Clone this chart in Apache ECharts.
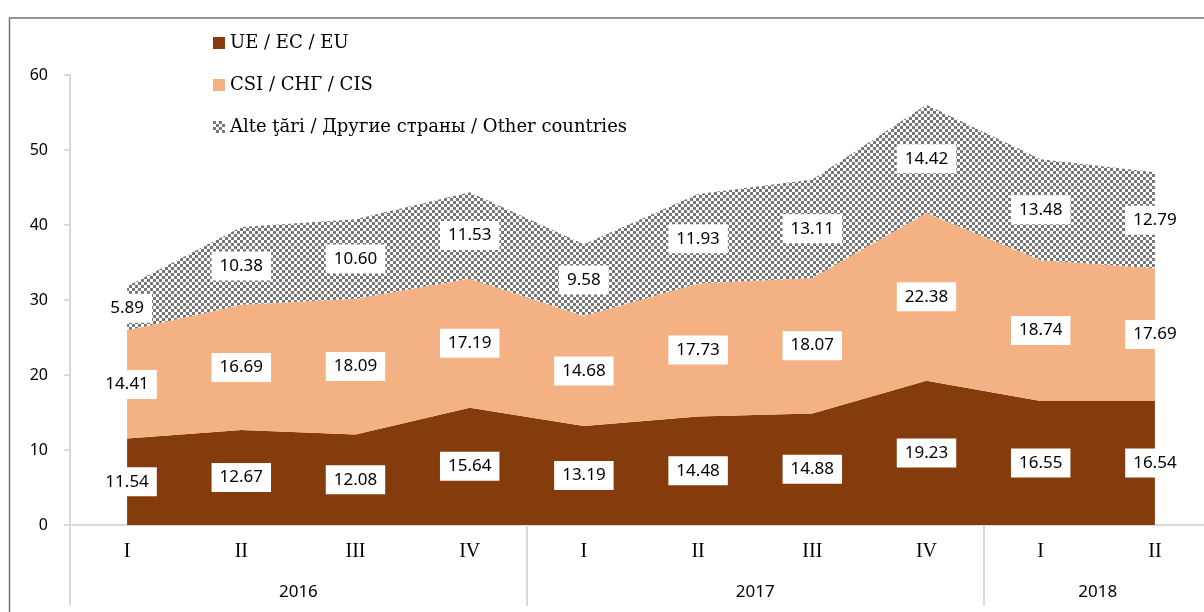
<!DOCTYPE html>
<html lang="ro">
<head>
	<meta charset="UTF-8">
	<title>Export pe regiuni</title>
	<script type="text/javascript" src="https://cdn.jsdelivr.net/npm/echarts@6/dist/echarts.min.js"></script>
	<style>
		html, body { margin: 0; padding: 0; background: #fff; }
		#main { width: 1204px; height: 612px; }
	</style>
</head>
<body>
	<div id="main"></div>
	<script type="text/javascript">
		// data
		var quarters = ['I', 'II', 'III', 'IV', 'I', 'II', 'III', 'IV', 'I', 'II'];
		var years = ['2016', '2017', '2018'];
		var yearStarts = [0, 4, 8, 10];      // quarter index where each year group begins / ends
		var euData = [11.54, 12.67, 12.08, 15.64, 13.19, 14.48, 14.88, 19.23, 16.55, 16.54];
		var cisData = [14.41, 16.69, 18.09, 17.19, 14.68, 17.73, 18.07, 22.38, 18.74, 17.69];
		var otherData = [5.89, 10.38, 10.60, 11.53, 9.58, 11.93, 13.11, 14.42, 13.48, 12.79];
		var seriesNames = ['UE / EC / EU', 'CSI / СНГ / CIS', 'Alte ţări / Другие страны / Other countries'];

		var yMax = 60;
		var gridTop = 75, gridBottom = 87;
		var plotH = 612 - gridTop - gridBottom;
		var pxPerUnit = plotH / yMax;

		// checker pattern for the third series
		var pc = document.createElement('canvas');
		pc.width = 6; pc.height = 6;
		var ctx = pc.getContext('2d');
		ctx.fillStyle = '#ffffff';
		ctx.fillRect(0, 0, 6, 6);
		ctx.fillStyle = '#767676';
		ctx.fillRect(0, 0, 3, 3);
		ctx.fillRect(3, 3, 3, 3);
		var checker = { image: pc, repeat: 'repeat' };

		// labels sit in the middle of each band
		function withLabels(vals) {
			return vals.map(function (v) {
				return { value: v, label: { offset: [0, v / 2 * pxPerUnit] } };
			});
		}

		var labelStyle = {
			show: true,
			position: 'inside',
			formatter: function (p) { return p.value.toFixed(2); },
			fontFamily: 'Noto Sans',
			fontSize: 17,
			color: '#000',
			backgroundColor: '#fff',
			padding: [6, 8]
		};

		function areaSeries(name, vals, color) {
			return {
				name: name,
				type: 'line',
				stack: 'total',
				data: withLabels(vals),
				symbol: 'circle',
				symbolSize: 0,
				showSymbol: true,
				lineStyle: { width: 0 },
				itemStyle: { color: color },
				areaStyle: { color: color, opacity: 1 },
				label: labelStyle
			};
		}

		var yearMid = {};
		for (var i = 0; i < years.length; i++) {
			yearMid[(yearStarts[i] + yearStarts[i + 1]) / 2] = years[i];
		}

		var myChart = echarts.init(document.getElementById('main'));
		var option = {
			animation: false,
			legend: {
				orient: 'vertical',
				left: 208,
				top: 28,
				itemWidth: 12,
				itemHeight: 12,
				itemGap: 22,
				icon: 'rect',
				textStyle: {
					fontFamily: 'DejaVu Serif',
					fontSize: 18,
					lineHeight: 20,
					color: '#000'
				},
				data: seriesNames
			},
			grid: {
				left: 70,
				width: 1142,
				top: gridTop,
				bottom: gridBottom,
				containLabel: false,
				outerBoundsMode: 'none'
			},
			xAxis: [{
				type: 'category',
				data: quarters,
				boundaryGap: true,
				axisLine: { lineStyle: { color: '#d9d9d9', width: 2 } },
				axisTick: { interval: 0, length: 41, lineStyle: { color: '#d9d9d9', width: 2 } },
				axisLabel: {
					interval: 0,
					margin: 17,
					fontFamily: 'Liberation Serif',
					fontSize: 20,
					color: '#000'
				}
			}, {
				type: 'value',
				min: 0,
				max: quarters.length,
				position: 'bottom',
				axisLine: { show: false },
				splitLine: { show: false },
				axisTick: {
					customValues: yearStarts,
					length: 81,
					lineStyle: { color: '#d9d9d9', width: 2 }
				},
				axisLabel: {
					customValues: Object.keys(yearMid).map(Number),
					formatter: function (v) { return yearMid[v] || ''; },
					margin: 59,
					fontFamily: 'Noto Sans',
					fontSize: 17,
					color: '#000'
				}
			}],
			yAxis: {
				type: 'value',
				min: 0,
				max: yMax,
				interval: 10,
				axisLine: { show: true, lineStyle: { color: '#d9d9d9', width: 2 } },
				axisTick: { show: true, length: 6, lineStyle: { color: '#d9d9d9', width: 2 } },
				splitLine: { show: false },
				axisLabel: {
					margin: 22,
					fontFamily: 'Noto Sans',
					fontSize: 16,
					color: '#000'
				}
			},
			graphic: [{
				type: 'polyline',
				shape: { points: [[9.5, 612], [9.5, 18], [1204, 18]] },
				style: { stroke: '#767676', lineWidth: 1.5, fill: null },
				silent: true
			}],
			series: [
				areaSeries(seriesNames[0], euData, '#843c0c'),
				areaSeries(seriesNames[1], cisData, '#f4b183'),
				areaSeries(seriesNames[2], otherData, checker)
			]
		};
		myChart.setOption(option);
	</script>
</body>
</html>
